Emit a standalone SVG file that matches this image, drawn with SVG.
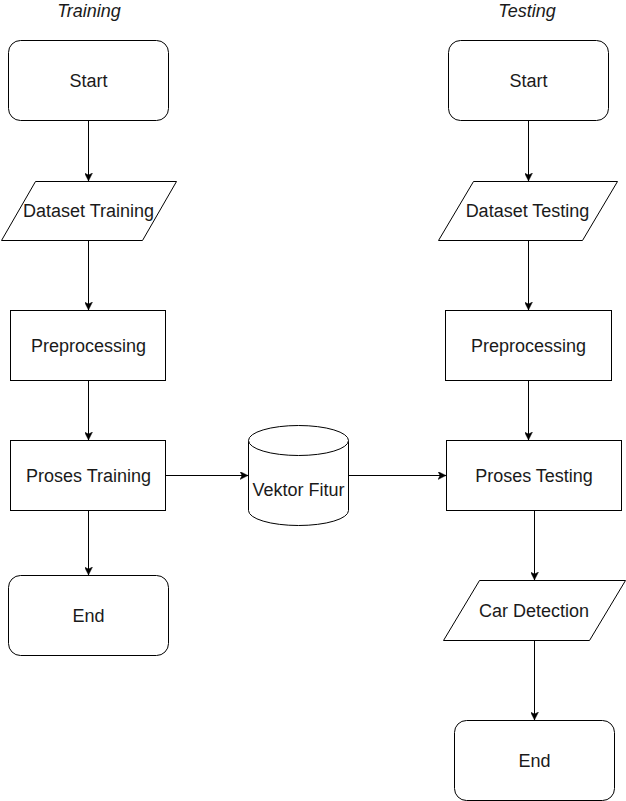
<svg xmlns="http://www.w3.org/2000/svg" width="626" height="801" viewBox="0 0 626 801">
  <style>
    .shape { fill: #ffffff; stroke: #000000; stroke-width: 1; }
    .label { font-family: "Liberation Sans", Arial, sans-serif; font-size: 18px; fill: #1a1a1a; text-anchor: middle; }
    .title { font-style: italic; }
    .edge { fill: none; stroke: #000000; stroke-width: 1; marker-end: url(#arrow); }
  </style>
  <defs>
    <marker id="arrow" viewBox="0 0 10 10" refX="10" refY="5" markerWidth="8" markerHeight="8" markerUnits="userSpaceOnUse" orient="auto">
      <path d="M0,0 L10,5 L0,10 L2.5,5 Z" fill="#000000" stroke="#000000" stroke-width="0.5"/>
    </marker>
  </defs>
  <rect width="626" height="801" fill="#ffffff"/>

  <g id="title-training"><text class="label title" x="89" y="17">Training</text></g>
  <g id="title-testing"><text class="label title" x="527" y="17">Testing</text></g>

  <g id="connectors">
    <path class="edge" d="M88.5,120.5 L88.5,181"/>
    <path class="edge" d="M88.5,240.5 L88.5,310"/>
    <path class="edge" d="M88.5,380.5 L88.5,440"/>
    <path class="edge" d="M88.5,510.5 L88.5,575"/>
    <path class="edge" d="M165.5,475.5 L248,475.5"/>
    <path class="edge" d="M348.5,475.5 L446,475.5"/>
    <path class="edge" d="M528.5,120.5 L528.5,181"/>
    <path class="edge" d="M528.5,240.5 L528.5,310"/>
    <path class="edge" d="M528.5,380.5 L528.5,440"/>
    <path class="edge" d="M534.5,510.5 L534.5,580"/>
    <path class="edge" d="M534.5,640.5 L534.5,720"/>
  </g>

  <g id="start-training">
    <rect class="shape" x="8.5" y="40.5" width="160" height="80" rx="12" ry="12"/>
    <text class="label" x="88.5" y="87">Start</text>
  </g>
  <g id="dataset-training">
    <polygon class="shape" points="35.5,181.5 176.5,181.5 142.5,240.5 1.5,240.5"/>
    <text class="label" x="88.5" y="217">Dataset Training</text>
  </g>
  <g id="preprocessing-training">
    <rect class="shape" x="10.5" y="310.5" width="155" height="70"/>
    <text class="label" x="88.5" y="352">Preprocessing</text>
  </g>
  <g id="proses-training">
    <rect class="shape" x="10.5" y="440.5" width="155" height="70"/>
    <text class="label" x="88.5" y="482">Proses Training</text>
  </g>
  <g id="end-training">
    <rect class="shape" x="8.5" y="575.5" width="160" height="80" rx="12" ry="12"/>
    <text class="label" x="88.5" y="622">End</text>
  </g>

  <g id="vektor-fitur">
    <path class="shape" d="M248.5,440.5 A50,15 0 0 1 348.5,440.5 L348.5,510.5 A50,15 0 0 1 248.5,510.5 Z"/>
    <path class="shape" fill="none" d="M248.5,440.5 A50,15 0 0 0 348.5,440.5"/>
    <text class="label" x="298.5" y="496">Vektor Fitur</text>
  </g>

  <g id="start-testing">
    <rect class="shape" x="448.5" y="40.5" width="160" height="80" rx="12" ry="12"/>
    <text class="label" x="528.5" y="87">Start</text>
  </g>
  <g id="dataset-testing">
    <polygon class="shape" points="473.5,181.5 617.5,181.5 582.5,240.5 438.5,240.5"/>
    <text class="label" x="527.5" y="217">Dataset Testing</text>
  </g>
  <g id="preprocessing-testing">
    <rect class="shape" x="445.5" y="310.5" width="166" height="70"/>
    <text class="label" x="528.5" y="352">Preprocessing</text>
  </g>
  <g id="proses-testing">
    <rect class="shape" x="446.5" y="440.5" width="175" height="70"/>
    <text class="label" x="534" y="482">Proses Testing</text>
  </g>
  <g id="car-detection">
    <polygon class="shape" points="479.5,580.5 625.5,580.5 589.5,640.5 443.5,640.5"/>
    <text class="label" x="534" y="617">Car Detection</text>
  </g>
  <g id="end-testing">
    <rect class="shape" x="454.5" y="720.5" width="160" height="80" rx="12" ry="12"/>
    <text class="label" x="534.5" y="767">End</text>
  </g>
</svg>
